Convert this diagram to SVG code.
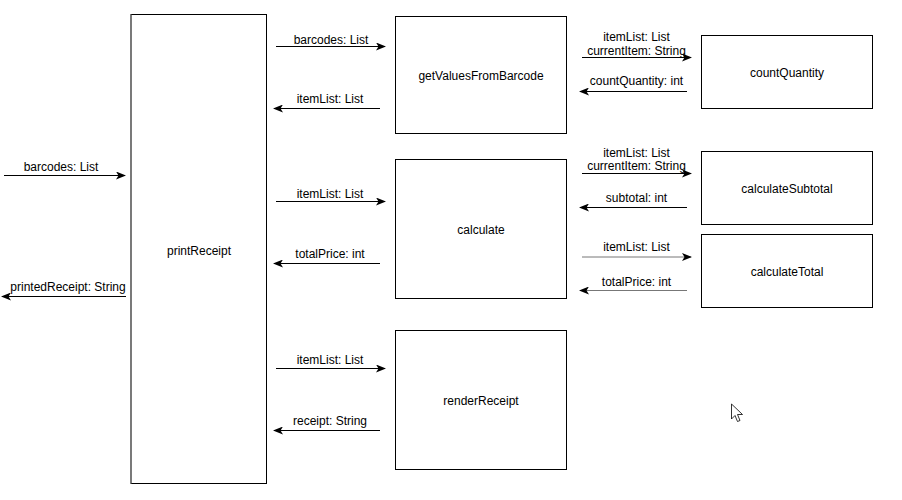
<svg xmlns="http://www.w3.org/2000/svg" width="902" height="500" viewBox="0 0 902 500">
<style>
.box{fill:#fff;stroke:#000;stroke-width:1}
.t{font-family:"Liberation Sans",Arial,sans-serif;font-size:12px;fill:#000;text-anchor:middle;dominant-baseline:central}
.c{fill:none;stroke:#000;stroke-width:1}
.g{stroke:#777}
</style>
<defs>
<marker id="ah" viewBox="0 0 10 8" refX="9" refY="4" markerWidth="10" markerHeight="8" markerUnits="userSpaceOnUse" orient="auto">
<path d="M0,0 L10,4 L0,8 L2.5,4 Z" fill="#000"/>
</marker>
</defs>
<rect width="902" height="500" fill="#fff"/>
<g id="printReceipt">
<rect class="box" x="131" y="14.5" width="135.5" height="469"/>
<line x1="131" y1="14.5" x2="131" y2="483.5" stroke="#777" stroke-width="1.3"/>
<text class="t" x="199" y="250.5">printReceipt</text>
</g>
<g id="getValuesFromBarcode">
<rect class="box" x="395.5" y="16.5" width="171" height="117"/>
<text class="t" x="481" y="76">getValuesFromBarcode</text>
</g>
<g id="calculate">
<rect class="box" x="395.5" y="159.5" width="171" height="139"/>
<text class="t" x="481" y="230">calculate</text>
</g>
<g id="renderReceipt">
<rect class="box" x="395.5" y="330.5" width="171" height="139"/>
<text class="t" x="481" y="401">renderReceipt</text>
</g>
<g id="countQuantity">
<rect class="box" x="701.5" y="35.5" width="171" height="73"/>
<text class="t" x="787" y="72.8">countQuantity</text>
</g>
<g id="calculateSubtotal">
<rect class="box" x="701.5" y="151.5" width="171" height="73"/>
<text class="t" x="787" y="188.8">calculateSubtotal</text>
</g>
<g id="calculateTotal">
<rect class="box" x="701.5" y="234.5" width="171" height="73"/>
<text class="t" x="787" y="271.8">calculateTotal</text>
</g>
<g id="connectors">
<line class="c" x1="4" y1="175.5" x2="125" y2="175.5" marker-end="url(#ah)"/>
<text class="t" x="61" y="166.5">barcodes: List</text>
<line class="c" x1="126" y1="296.5" x2="2" y2="296.5" marker-end="url(#ah)"/>
<text class="t" x="68" y="286.5">printedReceipt: String</text>

<line class="c" x1="276" y1="46.5" x2="385" y2="46.5" marker-end="url(#ah)"/>
<text class="t" x="331" y="39.5">barcodes: List</text>
<line class="c" x1="380" y1="108.5" x2="274" y2="108.5" marker-end="url(#ah)"/>
<text class="t" x="330" y="98.5">itemList: List</text>
<line class="c" x1="276" y1="201.5" x2="385" y2="201.5" marker-end="url(#ah)"/>
<text class="t" x="330" y="193.5">itemList: List</text>
<line class="c" x1="380" y1="263.5" x2="274" y2="263.5" marker-end="url(#ah)"/>
<text class="t" x="330" y="254">totalPrice: int</text>
<line class="c" x1="276" y1="368.5" x2="385" y2="368.5" marker-end="url(#ah)"/>
<text class="t" x="330" y="359.5">itemList: List</text>
<line class="c" x1="380" y1="430.5" x2="274" y2="430.5" marker-end="url(#ah)"/>
<text class="t" x="330" y="420.5">receipt: String</text>

<line class="c" x1="582" y1="57.5" x2="691" y2="57.5" marker-end="url(#ah)"/>
<text class="t" x="636.5" y="36.5">itemList: List</text>
<text class="t" x="636.5" y="50.5">currentItem: String</text>
<line class="c" x1="687" y1="91.5" x2="580" y2="91.5" marker-end="url(#ah)"/>
<text class="t" x="636.5" y="81">countQuantity: int</text>

<line class="c" x1="582" y1="173.5" x2="691" y2="173.5" marker-end="url(#ah)"/>
<text class="t" x="636.5" y="152.5">itemList: List</text>
<text class="t" x="636.5" y="166">currentItem: String</text>
<line class="c" x1="687" y1="207.5" x2="580" y2="207.5" marker-end="url(#ah)"/>
<text class="t" x="636.5" y="197.5">subtotal: int</text>

<line class="c g" x1="582" y1="257" x2="691" y2="257" marker-end="url(#ah)"/>
<text class="t" x="636.5" y="247">itemList: List</text>
<line class="c g" x1="687" y1="290.5" x2="580" y2="290.5" marker-end="url(#ah)"/>
<text class="t" x="636.5" y="281.5">totalPrice: int</text>
</g>
<path d="M731.5,404 L731.5,419 L735,415.5 L737.5,421.5 L740,420.5 L737.5,414.5 L742.5,414.5 Z" fill="#fff" stroke="#000" stroke-width="0.8"/>
</svg>
